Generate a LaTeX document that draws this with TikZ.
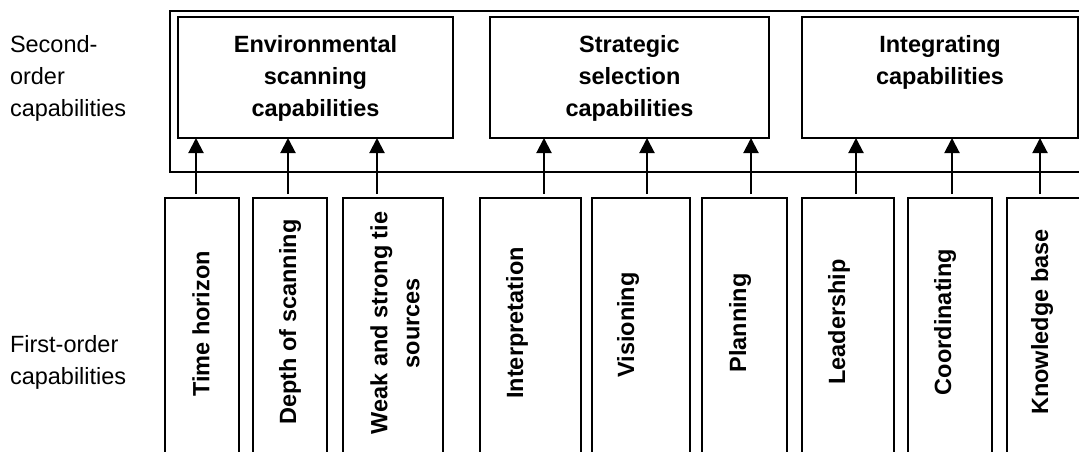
\documentclass[tikz,border=0pt]{standalone}
\usepackage{fontspec}
\setmainfont{Liberation Sans}
\usetikzlibrary{arrows.meta}
\tikzset{
  every node/.style={inner sep=0pt, outer sep=0pt},
  txt/.style={font=\fontsize{23.5}{32}\selectfont},
  btxt/.style={font=\fontsize{23.5}{32}\selectfont\bfseries},
  box/.style={draw, line width=2pt, rectangle, minimum width=#1, minimum height=400pt, anchor=north west},
  topbox/.style={draw, line width=2pt, rectangle, anchor=north west, minimum height=121pt, minimum width=#1},
  arr/.style={line width=2pt, -{Triangle[width=15pt,length=15pt]}},
}
\begin{document}
\begin{tikzpicture}[x=1pt,y=-1pt]
\useasboundingbox (0,0) rectangle (1079,452);
\fill[white] (0,0) rectangle (1079,452);
\begin{scope}
\clip (0,0) rectangle (1079,452);
% outer frame
\node[draw, line width=2pt, anchor=north west, minimum width=960pt, minimum height=161pt] (outer) at (170,11) {};
% second-order boxes
\node[topbox=275pt] (env) at (178,17) {};
\node[topbox=279pt] (str) at (490,17) {};
\node[topbox=276pt] (int) at (802,17) {};
\node[btxt, align=center, anchor=north] (envt) at ([yshift=-18pt]env.north) {Environmental\\scanning\\capabilities};
\node[btxt, align=center, anchor=north] (strt) at ([yshift=-18pt]str.north) {Strategic\\selection\\capabilities};
\node[btxt, align=center, anchor=north] (intt) at ([yshift=-18pt]int.north) {Integrating\\capabilities};
% first-order boxes
\node[box=74pt] (b1) at (165,198) {};
\node[box=74pt] (b2) at (253,198) {};
\node[box=100pt] (b3) at (343,198) {};
\node[box=101pt] (b4) at (480,198) {};
\node[box=98pt] (b5) at (592,198) {};
\node[box=85pt] (b6) at (702,198) {};
\node[box=92pt] (b7) at (802,198) {};
\node[box=84pt] (b8) at (908,198) {};
\node[box=83pt] (b9) at (1007,198) {};
% rotated labels
\node[btxt, rotate=90] (t1) at (201,324) {Time horizon};
\node[btxt, rotate=90] (t2) at (290,322) {Depth of scanning};
\node[btxt, rotate=90, align=center] (t3) at (395,323) {Weak and strong tie\\sources};
\node[btxt, rotate=90] (t4) at (517,323) {Interpretation};
\node[btxt, rotate=90] (t5) at (628,325) {Visioning};
\node[btxt, rotate=90] (t6) at (740,323) {Planning};
\node[btxt, rotate=90] (t7) at (839,322) {Leadership};
\node[btxt, rotate=90] (t8) at (945,322) {Coordinating};
\node[btxt, rotate=90] (t9) at (1042,322) {Knowledge base};
% arrows
\draw[arr] ([xshift=-6pt,yshift=4pt]b1.north) coordinate (s1) -- (s1 |- env.south);
\draw[arr] ([xshift=-2pt,yshift=4pt]b2.north) coordinate (s2) -- (s2 |- env.south);
\draw[arr] ([xshift=-16pt,yshift=4pt]b3.north) coordinate (s3) -- (s3 |- env.south);
\draw[arr] ([xshift=13.5pt,yshift=4pt]b4.north) coordinate (s4) -- (s4 |- str.south);
\draw[arr] ([xshift=6pt,yshift=4pt]b5.north) coordinate (s5) -- (s5 |- str.south);
\draw[arr] ([xshift=6.5pt,yshift=4pt]b6.north) coordinate (s6) -- (s6 |- str.south);
\draw[arr] ([xshift=8pt,yshift=4pt]b7.north) coordinate (s7) -- (s7 |- int.south);
\draw[arr] ([xshift=2pt,yshift=4pt]b8.north) coordinate (s8) -- (s8 |- int.south);
\draw[arr] ([xshift=-8.5pt,yshift=4pt]b9.north) coordinate (s9) -- (s9 |- int.south);
\end{scope}
% left labels
\node[txt, align=left, anchor=north west] (second) at (10,35) {Second-\\order\\capabilities};
\node[txt, align=left, anchor=north west] (first) at (10,335) {First-order\\capabilities};
\end{tikzpicture}
\end{document}
